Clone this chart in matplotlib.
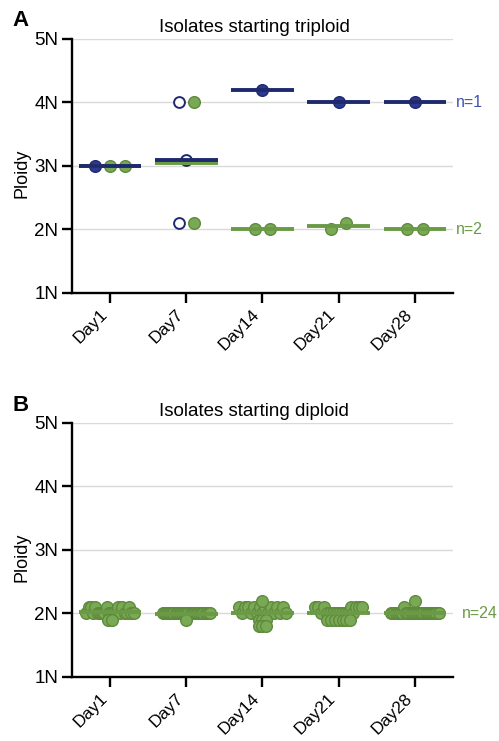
import numpy as np
import matplotlib
matplotlib.use("Agg")
import matplotlib.pyplot as plt

plt.rcParams["font.family"] = ["Liberation Sans", "DejaVu Sans"]

days = ["Day1", "Day7", "Day14", "Day21", "Day28"]
yticks = [1, 2, 3, 4, 5]
ylabels = ["1N", "2N", "3N", "4N", "5N"]

# panel A: isolates starting triploid
tri_blue = [[3.0], [], [4.2], [4.0], [4.0]]          # n=1, filled
tri_blue_open = [[], [4.0, 3.1, 2.1], [], [], []]    # n=1, open (Day7 subpopulations)
tri_green = [[3.0, 3.0], [4.0, 2.1], [2.0, 2.0], [2.0, 2.1], [2.0, 2.0]]
tri_blue_mean = [3.0, 3.1, 4.2, 4.0, 4.0]
tri_green_mean = [3.0, 3.05, 2.0, 2.05, 2.0]

# panel B: isolates starting diploid (n=24 per day)
dip = [
    [2.0, 2.1, 2.1, 2.0, 2.1, 2.0, 2.0, 2.0, 2.0, 2.1, 2.0, 2.0, 2.0, 2.0, 2.1, 2.0,
     2.1, 2.0, 2.0, 2.1, 2.0, 2.0, 1.9, 1.9],
    [2.0] * 23 + [1.9],
    [2.1, 2.0, 2.1, 2.1, 2.0, 2.1, 2.0, 2.1, 2.0, 2.1, 2.0, 2.1, 2.0, 2.1, 2.0, 2.1, 2.0,
     1.9, 1.9, 1.9, 1.8, 1.8, 1.8, 2.2],
    [2.1, 2.1, 2.0, 2.1, 2.0, 2.0, 2.0, 2.0, 2.0, 2.0, 2.0, 2.0, 2.1, 2.0, 2.1, 2.1, 2.1,
     1.9, 1.9, 1.9, 1.9, 1.9, 1.9, 1.9],
    [2.0, 2.0, 2.0, 2.0, 2.0, 2.0, 2.1, 2.0, 2.0, 2.0, 2.0, 2.0, 2.0, 2.0, 2.0, 2.0, 2.0,
     2.0, 2.0, 2.0, 2.0, 2.0, 2.0, 2.2],
]

NAVY = "#1f2a6e"
BLUE_PT = "#2b3a8f"
BLUE_TXT = "#4052b0"
GREEN = "#7aa955"
GREEN_EDGE = "#5e8a3c"
GREEN_LINE = "#6b9a47"
GRID = "#d9d9d9"

BIN = 10 / 63.5   # marker diameter in data units (y)
MS = 8.4


def spread(vals, step, width):
    """Prism-like row layout: values in the same bin are centred side by side."""
    vals = np.asarray(vals, float)
    off = np.zeros(len(vals))
    bins = np.round(vals / BIN)
    for b in np.unique(bins):
        idx = np.where(bins == b)[0]
        n = len(idx)
        if n > 1:
            s = min(step, width / (n - 1))
            off[idx] = (np.arange(n) - (n - 1) / 2) * s
    return off


def style(ax, title):
    ax.set_xlim(-0.5, 4.5)
    ax.set_ylim(1, 5)
    ax.set_yticks(yticks)
    ax.set_yticklabels(ylabels, fontsize=13.5)
    ax.set_xticks(range(len(days)))
    ax.set_xticklabels(days, rotation=45, ha="right", fontsize=12.5)
    for y in yticks[1:]:
        ax.axhline(y, color=GRID, lw=1, zorder=0)
    for s in ["top", "right"]:
        ax.spines[s].set_visible(False)
    for s in ["left", "bottom"]:
        ax.spines[s].set_linewidth(1.7)
    ax.tick_params(width=1.7, length=7, direction="out", pad=3)
    ax.set_ylabel("Ploidy", fontsize=13)
    ax.yaxis.set_label_coords(-0.108, 0.47)
    ax.set_title(title, fontsize=13.5, x=0.478, pad=5)


W = 0.41
fig = plt.figure(figsize=(4.99, 7.41), dpi=100)
axA = fig.add_axes([0.1443, 0.6046, 0.7635, 0.3428])
axB = fig.add_axes([0.1443, 0.0864, 0.7635, 0.3428])

# ---- A ----
style(axA, "Isolates starting triploid")
for i in range(len(days)):
    vals = tri_blue[i] + tri_blue_open[i] + tri_green[i]
    kinds = ["b"] * len(tri_blue[i]) + ["o"] * len(tri_blue_open[i]) + ["g"] * len(tri_green[i])
    off = spread(vals, 0.2, 0.6)
    for v, k, o in zip(vals, kinds, off):
        if k == "b":
            axA.plot(i + o, v, "o", ms=MS, mfc=BLUE_PT, mec=NAVY, mew=1.0, zorder=3)
        elif k == "o":
            axA.plot(i + o, v, "o", ms=MS - 0.6, mfc="white", mec=NAVY, mew=1.4, zorder=3)
        else:
            axA.plot(i + o, v, "o", ms=MS, mfc=GREEN, mec=GREEN_EDGE, mew=1.0, zorder=3)
    axA.hlines(tri_green_mean[i], i - W, i + W, color=GREEN_LINE, lw=2.8, zorder=4)
    axA.hlines(tri_blue_mean[i], i - W, i + W, color=NAVY, lw=2.8, zorder=5)
axA.text(1.008, 4.0, "n=1", color=BLUE_TXT, fontsize=11.5, va="center", ha="left",
         transform=axA.get_yaxis_transform())
axA.text(1.008, 2.0, "n=2", color=GREEN_LINE, fontsize=11.5, va="center", ha="left",
         transform=axA.get_yaxis_transform())

# ---- B ----
style(axB, "Isolates starting diploid")
for i in range(len(days)):
    off = spread(dip[i], 0.05, 0.62)
    axB.plot(i + off, dip[i], "o", ls="none", ms=MS, mfc=GREEN, mec=GREEN_EDGE, mew=1.0, zorder=3)
    axB.hlines(np.mean(dip[i]), i - W, i + W, color=GREEN_LINE, lw=2.8, zorder=4)
axB.text(1.024, 2.0, "n=24", color=GREEN_LINE, fontsize=11.5, va="center", ha="left",
         transform=axB.get_yaxis_transform())

fig.text(0.042, 0.973, "A", fontsize=16, fontweight="bold", ha="center", va="center")
fig.text(0.042, 0.453, "B", fontsize=16, fontweight="bold", ha="center", va="center")

fig.savefig("out.png", dpi=100)
